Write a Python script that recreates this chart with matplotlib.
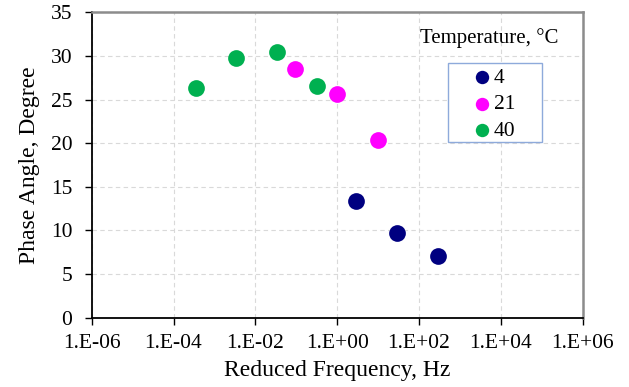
import matplotlib
matplotlib.use("Agg")
import matplotlib.pyplot as plt
from matplotlib.patches import Rectangle
from matplotlib.ticker import FixedLocator, FixedFormatter

plt.rcParams['font.family'] = ['Liberation Serif', 'DejaVu Serif']

# Data
freq_4 = [2.9, 28.7, 288]
phase_4 = [13.4, 9.7, 7.05]
freq_21 = [0.095, 1.0, 9.8]
phase_21 = [28.47, 25.67, 20.35]
freq_40 = [3.5e-4, 3.4e-3, 0.0333, 0.328]
phase_40 = [26.36, 29.8, 30.48, 26.6]

series_labels = ["4", "21", "40"]
series_colors = ["#000080", "#FF00FF", "#00B050"]

x_ticks = [1e-6, 1e-4, 1e-2, 1e0, 1e2, 1e4, 1e6]
x_tick_labels = ["1.E-06", "1.E-04", "1.E-02", "1.E+00", "1.E+02", "1.E+04", "1.E+06"]
y_ticks = [0, 5, 10, 15, 20, 25, 30, 35]

W, H = 629, 387
fig = plt.figure(figsize=(W / 100, H / 100), dpi=100)
L, R, T, B = 91.7, 582.7, 12.3, 317.7
ax = fig.add_axes([L / W, 1 - B / H, (R - L) / W, (B - T) / H])

for fx, py, lab, col in zip([freq_4, freq_21, freq_40], [phase_4, phase_21, phase_40],
                            series_labels, series_colors):
    ax.scatter(fx, py, s=145, color=col, label=lab, zorder=3, linewidths=0)

ax.set_xscale('log')
ax.set_xlim(1e-6, 1e6)
ax.set_ylim(0, 35)
ax.xaxis.set_major_locator(FixedLocator(x_ticks))
ax.xaxis.set_major_formatter(FixedFormatter(x_tick_labels))
ax.xaxis.set_minor_locator(FixedLocator([]))
ax.set_yticks(y_ticks)

ax.grid(True, which='major', linestyle=(0, (4, 3)), color='#D9D9D9', linewidth=0.8, zorder=0)
ax.set_axisbelow(True)

for side in ['left', 'bottom']:
    ax.spines[side].set_color('black')
    ax.spines[side].set_linewidth(1.3)
for side in ['top', 'right']:
    ax.spines[side].set_color('#8C8C8C')
    ax.spines[side].set_linewidth(1.8)

ax.tick_params(axis='both', which='major', direction='out', length=5, width=1,
               labelsize=15.5, color='black')
ax.tick_params(axis='x', pad=7)
ax.tick_params(axis='y', pad=9)

ax.set_xlabel("Reduced Frequency, Hz", fontsize=17, labelpad=5)
ax.set_ylabel("Phase Angle, Degree", fontsize=17, labelpad=8)

# Legend box and title
to_axes = ax.transAxes.inverted()
def pix(x, y):
    return to_axes.transform(fig.transFigure.transform((x / W, 1 - y / H)))

x0, y0 = pix(447.7, 142.3)
x1, y1 = pix(542.0, 63.3)
ax.add_patch(Rectangle((x0, y0), x1 - x0, y1 - y0, transform=ax.transAxes,
                       facecolor='white', edgecolor='#8EAADB', linewidth=1.0, zorder=4))
tx, ty = pix(489, 38)
ax.text(tx, ty, "Temperature, \u00b0C", transform=ax.transAxes, ha='center', va='center',
        fontsize=15, zorder=5)

lx, ly = pix(467, 63.3)
leg = ax.legend(loc='upper left', bbox_to_anchor=(lx, ly), frameon=False, fontsize=15.5,
                handletextpad=0.05, handlelength=1.0, labelspacing=0.3,
                borderpad=0.2, borderaxespad=0, markerscale=0.8)
leg.set_zorder(6)

fig.savefig("out.png", dpi=100)
